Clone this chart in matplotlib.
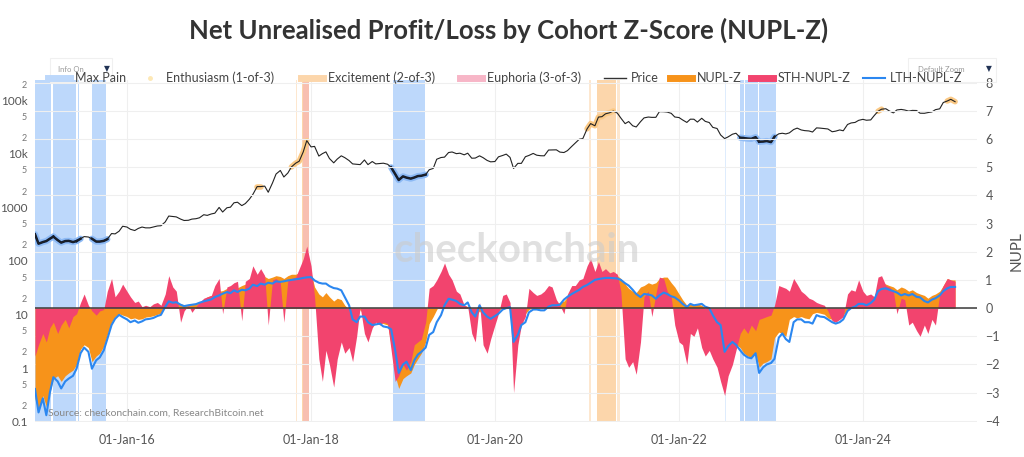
import numpy as np
import pandas as pd
import matplotlib
matplotlib.use('Agg')
import matplotlib.pyplot as plt
import matplotlib.dates as mdates
from matplotlib.lines import Line2D
from matplotlib.patches import Rectangle
from matplotlib.ticker import FixedLocator, FixedFormatter

plt.rcParams['font.family'] = ['Lato', 'DejaVu Sans']

# semi-monthly samples, 2015-01-01 .. 2025-01-01
dates = pd.date_range('2015-01-01', '2025-01-01', freq='SMS')

price = [
    315, 210, 225, 235, 260, 285, 245, 220, 235, 237, 225, 235, 260, 285, 280, 260, 230, 230, 237, 255, 325, 320, 360, 445,
    430, 390, 370, 405, 430, 415, 415, 430, 450, 455, 535, 690, 675, 665, 605, 570, 575, 605, 615, 640, 730, 710, 755, 780,
    1000, 820, 985, 1010, 1220, 1250, 1080, 1180, 1420, 1750, 2450, 2450, 2500, 1920, 2870, 4200, 4900, 3700, 4400, 5700, 6700, 7300, 10900, 17700,
    13500, 13800, 9100, 10100, 10900, 8200, 6800, 8000, 9200, 8500, 7500, 6500, 6400, 6300, 7700, 6300, 7200, 6500, 6600, 6700, 6400, 5600, 4200, 3250,
    3800, 3600, 3450, 3620, 3850, 3900, 4100, 5050, 5350, 7950, 8550, 8700, 10600, 10850, 10100, 10300, 9600, 10300, 8300, 8350, 9200, 8500, 7550, 7100,
    7200, 8800, 9350, 9900, 8600, 5350, 6650, 6650, 8850, 9350, 10200, 9450, 9230, 9200, 11800, 11850, 11900, 10800, 10600, 11500, 13800, 15900, 18800, 19300,
    29400, 36800, 33500, 48700, 49600, 56000, 58800, 63200, 57800, 46700, 36700, 40200, 33500, 31800, 39900, 47000, 48800, 48100, 48200, 61600, 61300, 60400, 57200, 48900,
    47700, 43100, 38700, 44500, 44400, 39300, 46300, 40500, 38500, 31300, 29800, 22600, 19300, 20800, 23300, 24300, 20100, 19700, 19300, 19100, 20500, 16900, 17000, 17400,
    16600, 20900, 23700, 24300, 23600, 24700, 28500, 30300, 28000, 27200, 26800, 25600, 30600, 30300, 29700, 29200, 25900, 26600, 28000, 27000, 35400, 37800, 38700, 42300,
    44200, 42500, 43100, 52000, 62400, 68400, 69700, 63400, 58300, 66200, 67700, 66000, 62900, 64900, 64600, 57500, 57300, 59100, 60800, 67000, 69500, 91000, 97300, 104500,
    94400,
]

nupl_z = [
    -3.2, -3.7, -3.1, -3.5, -3.0, -2.5, -2.4, -2.6, -2.4, -2.3,
    -2.2, -2.0, -1.45, -1.3, -1.4, -1.9, -1.7, -1.6, -1.35, -0.95,
    -0.5, -0.3, -0.2, -0.25, -0.3, -0.38, -0.35, -0.4, -0.38, -0.32,
    -0.3, -0.27, -0.22, -0.18, 0.08, 0.25, 0.22, 0.2, 0.15, 0.12,
    0.13, 0.15, 0.17, 0.2, 0.3, 0.4, 0.45, 0.55, 0.6, 0.62,
    0.7, 0.72, 0.75, 0.72, 0.8, 0.85, 0.95, 1.1, 1.05, 1.1,
    1.12, 1.05, 1.1, 1.15, 1.12, 1.05, 1.15, 1.2, 1.2, 1.25,
    1.28, 1.3, 1.25, 0.75, 0.5, 0.4, 0.55, 0.4, 0.25, 0.35,
    0.3, 0.1, -0.05, -0.2, -0.35, -0.05, -0.3, -0.45, -0.5, -0.45,
    -0.5, -0.55, -0.6, -1.3, -2.4, -2.85, -2.5, -2.4, -2.3, -2.0,
    -1.8, -1.6, -1.2, -0.55, -0.3, -0.05, 0.2, 0.35, 0.3, 0.25,
    0.2, 0.15, 0.1, 0.05, -0.2, -0.3, -0.1, -0.3, -0.4, -0.3,
    -0.2, -0.1, 0.02, 0.05, 0.02, -1.1, -0.6, -0.35, -0.2, -0.05,
    0.02, 0.03, 0.02, 0.05, 0.1, 0.12, 0.15, 0.2, 0.25, 0.4,
    0.55, 0.65, 0.8, 0.95, 1.05, 1.15, 1.15, 1.2, 1.2, 1.18,
    1.2, 1.18, 1.15, 1.05, 0.85, 0.7, 0.6, 0.55, 0.75, 0.8,
    0.9, 0.85, 0.9, 1.05, 1.1, 1.1, 0.9, 0.75, 0.5, 0.3,
    0.1, 0.15, 0.12, 0.15, 0.1, 0.0, -0.1, -0.2, -0.4, -0.9,
    -1.3, -1.2, -1.15, -1.3, -1.4, -1.6, -1.7, -1.75, -1.6, -2.1,
    -1.95, -1.9, -1.8, -1.05, -0.85, -0.9, -1.0, -0.4, -0.3, -0.35,
    -0.3, -0.35, -0.38, -0.2, -0.15, -0.18, -0.22, -0.35, -0.4, -0.38,
    -0.35, -0.25, -0.05, 0.05, 0.1, 0.15, 0.18, 0.15, 0.25, 0.4,
    0.8, 0.9, 0.85, 0.8, 0.75, 0.65, 0.75, 0.7, 0.6, 0.65,
    0.55, 0.5, 0.45, 0.35, 0.45, 0.5, 0.6, 0.8, 1.05, 1.0, 1.0,
]

sth_nupl_z = [
    -1.7, -1.3, -0.9, -1.2, -0.7, -0.5, -0.9, -0.6, -0.4, -0.7,
    -0.3, -0.2, 0.2, 0.5, 0.1, -0.1, -0.25, -0.1, -0.05, 0.6,
    1.05, 0.4, 0.6, 0.85, 0.6, 0.4, 0.2, 0.25, 0.05, 0.1,
    0.05, 0.15, 0.2, 0.1, 0.5, 1.15, 0.75, 0.6, -0.5, -0.1,
    0.1, -0.15, 0.05, 0.2, 0.35, 0.4, 0.45, 0.8, 1.05, -0.2,
    0.75, 0.8, 0.9, 0.95, -0.45, 0.95, 1.05, 1.5, 1.2, 1.4,
    1.15, -0.6, 1.0, 1.05, 0.9, -0.5, 1.0, 1.05, 1.1, 1.4,
    1.75, 2.2, 1.5, 0.4, -1.8, -2.6, -1.5, -2.0, -2.8, -1.8,
    -1.2, -1.6, -1.4, -1.9, -1.0, 0.05, -0.9, -1.2, -0.7, -0.5,
    -0.6, -0.5, -0.55, -1.5, -2.6, -2.4, -2.0, -2.2, -1.9, -1.3,
    -1.2, -1.1, -0.5, 0.7, 0.8, 1.0, 1.3, 1.6, 1.2, 1.0,
    0.6, 0.5, 0.1, 0.05, -0.9, -1.2, 0.2, -1.3, -1.6, -1.1,
    -0.6, -0.2, 0.45, 0.5, 0.2, -3.0, -1.3, -0.6, -0.3, 0.7,
    0.55, 0.45, 0.5, 0.6, 0.8, 0.75, 0.3, 0.1, -0.2, 0.5,
    0.8, 0.8, 1.0, 1.05, 1.5, 1.75, 1.3, 1.65, 1.3, 1.4,
    1.25, 1.3, 1.2, 0.6, -1.8, -2.1, -1.9, -2.35, -1.2, 0.4,
    0.6, -0.3, 0.5, 1.1, 1.05, 0.6, 0.4, -0.6, -1.2, -1.3,
    -2.0, -0.9, -1.0, -0.7, -1.4, -1.7, -1.5, -1.8, -2.1, -2.6,
    -3.1, -2.4, -2.0, -1.5, -0.9, -0.7, -0.9, -0.6, -0.8, -0.4,
    -0.35, -0.3, -0.25, 0.1, 0.8, 0.75, 0.7, 0.6, 1.05, 0.85,
    0.6, 0.5, 0.35, 0.3, 0.2, 0.15, 0.1, -0.1, -0.45, -0.5,
    -0.4, -0.3, 0.5, 0.65, 0.6, 1.0, 0.6, 0.45, 0.5, 0.4,
    1.1, 1.15, 0.8, 0.75, 0.6, -0.2, 0.35, 0.3, -0.6, -0.5,
    -0.8, -1.0, -0.6, -0.9, -0.4, -0.6, 0.5, 0.8, 1.05, 1.0, 0.95,
]

lth_nupl_z = [
    -2.87, -3.7, -3.2, -3.8, -3.0, -2.45, -2.6, -2.85, -2.6, -2.5,
    -2.4, -2.15, -1.6, -1.4, -1.55, -2.15, -1.85, -1.75, -1.5, -1.1,
    -0.6, -0.38, -0.24, -0.32, -0.4, -0.5, -0.44, -0.52, -0.47, -0.4,
    -0.38, -0.35, -0.28, -0.24, 0.04, 0.24, 0.19, 0.21, 0.12, 0.07,
    0.1, 0.12, 0.14, 0.19, 0.24, 0.27, 0.31, 0.39, 0.45, 0.51,
    0.57, 0.53, 0.63, 0.57, 0.65, 0.63, 0.69, 0.83, 0.78, 0.87,
    0.83, 0.9, 0.87, 0.95, 0.93, 0.95, 0.98, 1.0, 1.02, 1.04,
    1.07, 1.09, 1.1, 0.98, 0.9, 0.87, 0.87, 0.78, 0.71, 0.69,
    0.63, 0.39, 0.1, -0.4, -0.5, -0.3, -0.3, -0.5, -0.6, -0.58,
    -0.55, -0.65, -0.68, -0.75, -1.5, -2.3, -2.0, -1.9, -2.2, -1.85,
    -1.65, -1.55, -1.4, -0.95, -0.85, -0.5, -0.25, 0.1, 0.33, 0.3,
    0.25, 0.15, 0.1, 0.2, -0.15, -0.3, 0.1, -0.15, -0.3, -0.38,
    -0.28, -0.2, -0.05, 0.0, 0.03, -1.2, -0.95, -0.6, -0.5, -0.15,
    -0.05, -0.05, -0.08, -0.08, 0.05, 0.1, 0.1, 0.12, 0.3, 0.4,
    0.5, 0.57, 0.65, 0.75, 0.82, 0.9, 1.0, 1.03, 1.05, 1.07,
    1.07, 1.06, 1.05, 1.0, 0.88, 0.8, 0.65, 0.5, 0.39, 0.5,
    0.48, 0.45, 0.33, 0.45, 0.55, 0.5, 0.42, 0.38, 0.27, 0.15,
    0.04, 0.15, 0.1, 0.12, 0.15, 0.05, 0.0, -0.25, -0.5, -0.6,
    -1.55, -1.35, -1.2, -1.3, -1.5, -1.65, -1.75, -1.78, -1.6, -2.3,
    -2.1, -2.0, -1.95, -1.8, -1.05, -0.9, -1.1, -1.2, -0.5, -0.4,
    -0.4, -0.5, -0.5, -0.55, -0.25, -0.3, -0.32, -0.4, -0.5, -0.55,
    -0.5, -0.4, -0.1, 0.0, 0.05, 0.15, 0.15, 0.1, 0.18, 0.3,
    0.6, 0.68, 0.7, 0.65, 0.6, 0.55, 0.45, 0.5, 0.45, 0.5,
    0.4, 0.38, 0.25, 0.2, 0.3, 0.35, 0.45, 0.6, 0.7, 0.75, 0.75,
]

# highlighted periods
max_pain_start = ['2015-01-01', '2015-03-13', '2015-06-20', '2015-08-16', '2018-11-24',
                  '2022-09-01', '2022-09-18', '2022-11-14']
max_pain_end = ['2015-03-06', '2015-06-14', '2015-06-26', '2015-10-08', '2019-03-28',
                '2022-09-14', '2022-11-10', '2023-01-19']
faint_pain_start = ['2022-07-03']
faint_pain_end = ['2022-07-08']
excite_start = ['2017-11-26', '2021-02-10']
excite_end = ['2017-12-24', '2021-04-25']
faint_excite_start = ['2017-11-04', '2018-01-02', '2021-01-10', '2021-04-30']
faint_excite_end = ['2017-11-08', '2018-01-06', '2021-01-15', '2021-05-13']
euphoria_start = ['2017-12-02']
euphoria_end = ['2017-12-22']
enthusiasm_start = ['2017-06-01', '2017-08-25', '2017-10-15', '2019-06-20', '2021-01-01',
                    '2024-03-01', '2024-11-20']
enthusiasm_end = ['2017-06-20', '2017-09-05', '2017-12-20', '2019-07-05', '2021-04-20',
                  '2024-03-20', '2025-01-01']

c_pain = '#bdd8fb'
c_excite = '#fcd6ab'
c_euph = '#f5a3b8'
c_nupl = '#f7931a'
c_sth = '#f2446e'
c_lth = '#2b87f0'
c_txt = '#555555'

price = np.array(price, dtype=float)

fig = plt.figure(figsize=(10.24, 4.57), dpi=100)
ax = fig.add_axes([35 / 1024, 1 - 422 / 457, 942 / 1024, 342 / 457])
ax2 = ax.twinx()

# bands
for s, e in zip(max_pain_start, max_pain_end):
    ax.axvspan(pd.Timestamp(s), pd.Timestamp(e), color=c_pain, lw=0, zorder=1)
for s, e in zip(faint_pain_start, faint_pain_end):
    ax.axvspan(pd.Timestamp(s), pd.Timestamp(e), color='#deecfd', lw=0, zorder=1)
for s, e in zip(excite_start, excite_end):
    ax.axvspan(pd.Timestamp(s), pd.Timestamp(e), color=c_excite, lw=0, zorder=1)
for s, e in zip(faint_excite_start, faint_excite_end):
    ax.axvspan(pd.Timestamp(s), pd.Timestamp(e), color='#fde7cf', lw=0, zorder=1)
for s, e in zip(euphoria_start, euphoria_end):
    ax.axvspan(pd.Timestamp(s), pd.Timestamp(e), color=c_euph, alpha=0.45, lw=0, zorder=1)

# price with glow in highlighted periods
pad = pd.Timedelta(days=9)
for s, e in zip(max_pain_start, max_pain_end):
    sel = (dates >= pd.Timestamp(s) - pad) & (dates <= pd.Timestamp(e) + pad)
    ax.plot(dates[sel], price[sel], color='#8dbaf5', lw=4.5, solid_capstyle='round', zorder=2)
    ax.plot(dates[sel], price[sel], color='#0c1a36', lw=1.8, zorder=3)
for s, e in zip(enthusiasm_start, enthusiasm_end):
    sel = (dates >= pd.Timestamp(s)) & (dates <= pd.Timestamp(e))
    ax.plot(dates[sel], price[sel], color='#fbc985', lw=4, solid_capstyle='round', zorder=2)
ax.plot(dates, price, color='#222222', lw=0.8, zorder=4)

ax.set_yscale('log')
ax.set_ylim(0.098, 2.4e5)
ax.set_xlim(pd.Timestamp('2015-01-01'), pd.Timestamp('2025-03-29'))

# oscillators
ax2.fill_between(dates, 0, nupl_z, color=c_nupl, lw=0, zorder=2)
ax2.fill_between(dates, 0, sth_nupl_z, color=c_sth, lw=0, zorder=3)
ax2.plot(dates, lth_nupl_z, color=c_lth, lw=1.5, zorder=4)
ax2.axhline(0, color='#3a3a3a', lw=1.1, zorder=5)
ax2.set_ylim(-4.04, 8.09)
ax2.set_yticks(range(-4, 9))
ax2.grid(axis='y', color='#efefef', lw=0.8)
ax2.set_ylabel('NUPL', fontsize=11, color=c_txt)
ax2.yaxis.set_label_coords((1010 - 35) / 942, 0.5)
ax2.tick_params(axis='y', length=0, labelsize=9, labelcolor=c_txt, pad=6)

# left log axis labels
major_vals = [0.1, 1, 10, 100, 1000, 1e4, 1e5]
major_labels = ['0.1', '1', '10', '100', '1000', '10k', '100k']
minor_vals = [0.2, 0.5, 2, 5, 20, 50, 200, 500, 2000, 5000, 2e4, 5e4, 2e5]
minor_labels = ['2', '5'] * 6 + ['2']
ax.yaxis.set_major_locator(FixedLocator(major_vals))
ax.yaxis.set_major_formatter(FixedFormatter(major_labels))
ax.yaxis.set_minor_locator(FixedLocator(minor_vals))
ax.yaxis.set_minor_formatter(FixedFormatter(minor_labels))
ax.tick_params(axis='y', which='major', length=0, labelsize=8.5, labelcolor=c_txt, pad=5)
ax.tick_params(axis='y', which='minor', length=0, labelsize=6.5, labelcolor='#777777', pad=6)

ax.xaxis.set_major_locator(mdates.YearLocator(2, month=1, day=1))
ax.xaxis.set_major_formatter(mdates.DateFormatter('%d-%b-%y'))
ax.tick_params(axis='x', length=0, labelsize=9, labelcolor=c_txt, pad=9)
ax.grid(axis='x', color='#efefef', lw=0.8)

for a in (ax, ax2):
    for sp in a.spines.values():
        sp.set_visible(False)

# legend, laid out by hand along the top row
leg_labels = ['Max Pain', 'Enthusiasm (1-of-3)', 'Excitement (2-of-3)', 'Euphoria (3-of-3)',
              'Price', 'NUPL-Z', 'STH-NUPL-Z', 'LTH-NUPL-Z']
leg_colors = [c_pain, '#fde8b5', c_excite, '#f7b6c7', '#333333', c_nupl, c_sth, c_lth]
leg_widths = [5, 0, 5, 5, 1, 5, 5, 1.5]
leg_x = [48, 139, 301, 460, 604, 670, 751, 863]
leg_y = 1 - 78 / 457
for lab, col, w, x0 in zip(leg_labels, leg_colors, leg_widths, leg_x):
    if w > 0:
        fig.add_artist(Line2D([x0 / 1024, (x0 + 22) / 1024], [leg_y, leg_y],
                              color=col, lw=w, transform=fig.transFigure))
    else:
        fig.add_artist(Line2D([(x0 + 11) / 1024], [leg_y], ls='none', marker='o', ms=2.5,
                              color=col, transform=fig.transFigure))
    fig.text((x0 + 27) / 1024, leg_y, lab, fontsize=9, color='#444444', va='center')

fig.text(0.497, 0.934, 'Net Unrealised Profit/Loss by Cohort Z-Score (NUPL-Z)',
         ha='center', va='center', fontsize=18.5, fontweight='bold', color='#333333')

fig.text(517 / 1024, 1 - 250 / 457, 'checkonchain', ha='center', va='center',
         fontsize=29, fontweight='bold', color='#cccccc', alpha=0.6)
fig.text(48 / 1024, 1 - 413 / 457, 'Source: checkonchain.com, ResearchBitcoin.net',
         va='center', fontsize=7.5, color='#888888')

# little control boxes
fig.patches.append(Rectangle((50 / 1024, 1 - 82 / 457), 62 / 1024, 24 / 457,
                             transform=fig.transFigure, fill=False, ec='#f0f0f0', lw=0.8))
fig.patches.append(Rectangle((908 / 1024, 1 - 82 / 457), 88 / 1024, 24 / 457,
                             transform=fig.transFigure, fill=False, ec='#f0f0f0', lw=0.8))
fig.text(58 / 1024, 1 - 69 / 457, 'Info On', fontsize=5.5, color='#999999', va='center')
fig.text(104 / 1024, 1 - 69 / 457, '\u25bc', fontsize=5.5, color='#223355', va='center')
fig.text(918 / 1024, 1 - 69 / 457, 'Default Zoom', fontsize=5.5, color='#999999', va='center')
fig.text(986 / 1024, 1 - 69 / 457, '\u25bc', fontsize=5.5, color='#223355', va='center')

fig.savefig('out.png', dpi=100)
